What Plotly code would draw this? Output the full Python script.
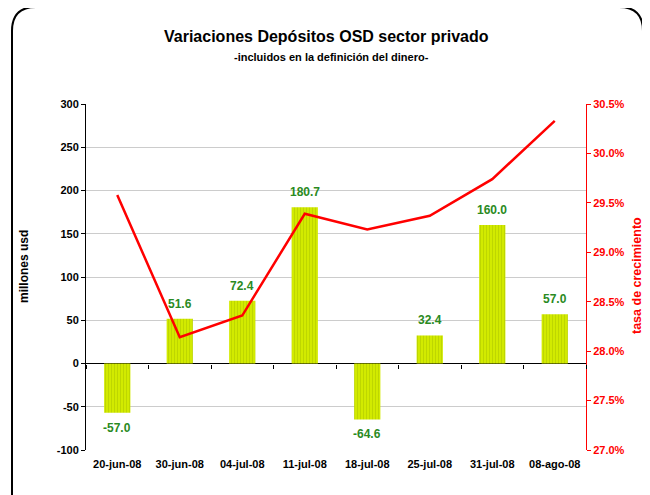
import plotly.graph_objects as go

# data
fechas = ["20-jun-08", "30-jun-08", "04-jul-08", "11-jul-08",
          "18-jul-08", "25-jul-08", "31-jul-08", "08-ago-08"]
variaciones = [-57.0, 51.6, 72.4, 180.7, -64.6, 32.4, 160.0, 57.0]
tasa_crecimiento = [29.58, 28.14, 28.36, 29.39, 29.23, 29.37, 29.74, 30.33]
y_ticks = [-100, -50, 0, 50, 100, 150, 200, 250, 300]
y_labels = ["-100", "-50", "0", "50", "100", "150", "200", "250", "300"]

# the page body has an 8px margin, so the figure is sized to fill the rest
OFF = 8
W, H = 650 - OFF, 495 - OFF
L, R, T, B = 86 - OFF, 64, 104 - OFF, 45
PW, PH = W - L - R, H - T - B


def px(x):
    return (x - OFF - L) / PW


def py(y):
    return (H - B - (y - OFF)) / PH


FONT = "Liberation Sans, Arial, sans-serif"
GREEN = "#2a8a22"

fig = go.Figure()

fig.add_trace(go.Bar(
    x=fechas, y=variaciones,
    marker=dict(color="#cde400",
                pattern=dict(shape="|", fgcolor="#a9c200", bgcolor="#d2ea00",
                             size=3, solidity=0.35),
                line=dict(width=0)),
    width=0.42, showlegend=False, hoverinfo="x+y",
))

fig.add_trace(go.Scatter(
    x=fechas, y=tasa_crecimiento, xaxis="x2", yaxis="y2",
    mode="lines", line=dict(color="#ff0000", width=2.5),
    showlegend=False,
))

annotations = []
for f, v in zip(fechas, variaciones):
    annotations.append(dict(
        x=f, y=v, xref="x", yref="y", text=f"{v:.1f}", showarrow=False,
        yshift=15 if v >= 0 else -15,
        font=dict(family=FONT, size=12, color=GREEN, weight="bold"),
    ))


def label(x, y, text, size, color="black", angle=0):
    return dict(x=px(x), y=py(y), xref="paper", yref="paper", showarrow=False,
                xanchor="center", yanchor="middle", text=text, textangle=angle,
                font=dict(family=FONT, size=size, color=color, weight="bold"))


annotations += [
    label(326, 37, "Variaciones Depósitos OSD sector privado", 16),
    label(331, 57, "-incluidos en la definición del dinero-", 11),
    label(24, 267, "millones usd", 12, angle=-90),
    label(637, 276, "tasa de crecimiento", 12.5, color="#ff0000", angle=-90),
]

# rounded frame around the chart
x0, x1, y0, y1, rr = px(12), px(643), py(7), py(520), 24
fx, fy = rr / PW, rr / PH
frame = (f"M {x0},{y1} L {x0},{y0 - fy} Q {x0},{y0} {x0 + fx},{y0} "
         f"L {x1 - fx},{y0} Q {x1},{y0} {x1},{y0 - fy} L {x1},{y1}")

fig.update_layout(
    width=W, height=H,
    margin=dict(l=L, r=R, t=T, b=B),
    paper_bgcolor="white", plot_bgcolor="white",
    font=dict(family=FONT, size=11, color="black"),
    annotations=annotations,
    shapes=[dict(type="path", path=frame, xref="paper", yref="paper",
                 line=dict(color="black", width=2))],
    xaxis=dict(type="category", range=[-0.5, 7.5], showgrid=False,
               showline=False, zeroline=False, ticks="",
               ticklabelstandoff=6,
               tickfont=dict(family=FONT, size=11, color="black", weight="bold")),
    xaxis2=dict(type="category", overlaying="x", matches="x", anchor="free",
                position=0.25, showticklabels=False, showgrid=False,
                showline=False, ticks="outside", ticklen=4, tickcolor="black",
                tickson="boundaries"),
    yaxis=dict(range=[-100, 300], tickmode="array", tickvals=y_ticks,
               ticktext=y_labels, showgrid=True, gridcolor="#cccccc",
               zeroline=True, zerolinecolor="black", zerolinewidth=1,
               showline=True, linecolor="black", linewidth=1,
               ticks="outside", ticklen=4, tickcolor="black",
               tickfont=dict(family=FONT, size=11, color="black", weight="bold")),
    yaxis2=dict(range=[27.0, 30.5], dtick=0.5, tickformat=".1f", ticksuffix="%",
                overlaying="y", side="right", anchor="x", showgrid=False,
                zeroline=False, showline=True, linecolor="#ff0000", linewidth=1,
                ticks="outside", ticklen=4, tickcolor="#ff0000",
                tickfont=dict(family=FONT, size=11, color="#ff0000", weight="bold")),
)

fig.write_html("out.html")
